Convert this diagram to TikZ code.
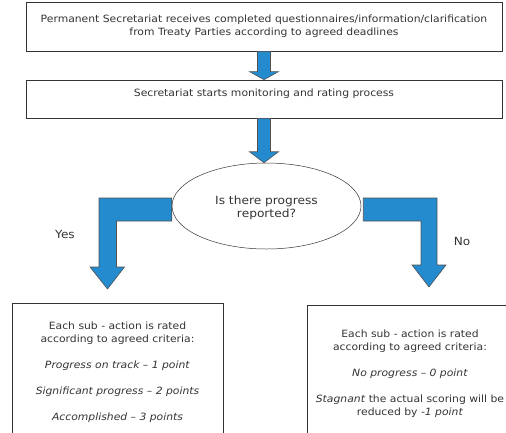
\documentclass[tikz,border=0pt]{standalone}
\usepackage{fontspec}
\setmainfont{DejaVu Sans}[FakeStretch=1.08]
\usetikzlibrary{shapes.geometric,calc}

\definecolor{flowblue}{RGB}{36,139,206}
\definecolor{inkgray}{RGB}{51,51,51}

% straight block arrow from the bottom of one node to the top of the next
\newcommand{\blockdown}[3]{%
    \path[blockarrow] ($(#1.south)+(-6.5,0)$) -- ($(#1.south |- #2.north)+(-6.5,-#3)$)
        -- ++(-8,0) -- (#1.south |- #2.north) -- ++(14.5,-#3) -- ++(-8,0)
        -- ($(#1.south)+(6.5,0)$) -- cycle;}

\begin{document}
\begin{tikzpicture}[x=1pt,y=-1pt]

% --- Styles ---
\tikzset{
    box/.style={draw=inkgray, line width=0.7pt, text=inkgray, align=center,
        font=\fontsize{10}{13}\selectfont},
    decision/.style={ellipse, draw=inkgray, line width=0.5pt, text=inkgray,
        align=center, text height=25pt, font=\fontsize{11.3}{13}\selectfont},
    blockarrow/.style={fill=flowblue, draw=inkgray!85, line width=0.6pt,
        line join=miter},
    answer/.style={text=inkgray, font=\fontsize{11.2}{13}\selectfont}
}

\clip (0,0) rectangle (506,432);

% Steps
\node[box, minimum width=476pt, minimum height=49pt] (recv) at (264,26.5)
    {Permanent Secretariat receives completed questionnaires/information/clarification\\
     from Treaty Parties according to agreed deadlines};
\node[box, minimum width=476pt, minimum height=38pt] (mon) at (264,99)
    {Secretariat starts monitoring and rating process\\~};

% Decision
\node[decision, minimum width=189pt, minimum height=86pt] (ask) at (266.5,206)
    {Is there progress\\reported?};

% Outcomes (bottoms run off the page)
\node[box, anchor=north, minimum width=211pt, inner ysep=19pt] (yesbox) at (117.5,303)
    {Each sub - action is rated\\
     according to agreed criteria:\\[13pt]
     \textit{Progress on track – 1 point}\\[13pt]
     \textit{Significant progress – 2 points}\\[13pt]
     \textit{Accomplished – 3 points}};
\node[box, anchor=north, minimum width=206pt, inner ysep=25pt] (nobox) at (410,305)
    {Each sub - action is rated\\
     according to agreed criteria:\\[13pt]
     \textit{No progress – 0 point}\\[13pt]
     \textit{Stagnant} the actual scoring will be\\
     reduced by \textit{-1 point}};

\node[answer] (yes) at (65,234) {Yes};
\node[answer] (no) at (462,241) {No};

% Arrow tips of the branches
\coordinate (yestip) at (107.5,289);
\coordinate (notip) at (429,287);

% Straight arrows
\blockdown{recv}{mon}{8}
\blockdown{mon}{ask}{11}

% Bent arrow: yes branch
\path[blockarrow] ($(ask.west)+(0,-8)$) -| ($(yestip)+(-8.5,-22)$) -- ++(-9,0)
    -- (yestip) -- ++(17,-22) -- ++(-8,0) |- ($(ask.west)+(0,15)$) -- cycle;

% Bent arrow: no branch
\path[blockarrow] ($(ask.east)+(2,-8)$) -| ($(notip)+(8,-22)$) -- ++(9,0)
    -- (notip) -- ++(-17,-22) -- ++(9,0) |- ($(ask.east)+(2,15)$) -- cycle;

\end{tikzpicture}
\end{document}
